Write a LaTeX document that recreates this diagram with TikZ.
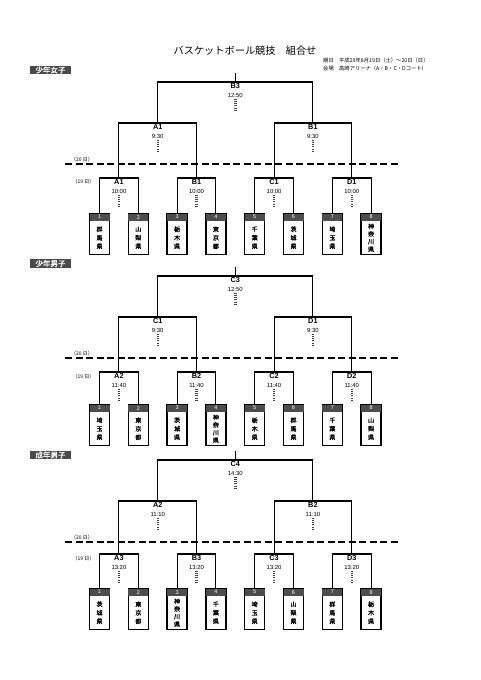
\documentclass[tikz,border=0pt]{standalone}
\usepackage{fontspec}
\newfontfamily\jp{Noto Sans CJK JP}
\newfontfamily\jpb{Noto Sans CJK JP}[FakeBold=1.5]
\newfontfamily\lib{Liberation Sans}
\definecolor{hdr}{HTML}{4D4D4D}
\definecolor{lab}{HTML}{4A4A4A}
\tikzset{
 tree/.style={line width=1.1pt, black},
 teambox/.style={draw, line width=1.5pt, minimum width=20pt, minimum height=40.5pt, inner sep=0pt, anchor=north, fill=white},
 numtxt/.style={text=white, font=\lib\fontsize{5.5}{6}\selectfont, inner sep=0pt},
 nametxt/.style={align=center, font=\jpb\fontsize{6}{8.5}\selectfont, inner sep=0pt},
 name4/.style={font=\jpb\fontsize{6}{7.6}\selectfont},
 mlabel/.style={font=\lib\bfseries\fontsize{7.3}{8}\selectfont, inner sep=0pt},
 mtime/.style={font=\lib\fontsize{5.9}{6.5}\selectfont, inner sep=0pt},
 mdots/.style={line width=2.4pt, black!75, dash pattern=on 0.7pt off 1.5pt},
 daysep/.style={line width=1.8pt, dash pattern=on 7pt off 3.5pt},
 daytxt/.style={font=\jp\fontsize{5}{6}\selectfont, inner sep=0pt},
 seclabel/.style={fill=lab, text=white, font=\jpb\fontsize{7.5}{8}\selectfont, minimum width=41pt, minimum height=8.5pt, inner sep=0pt},
 titletxt/.style={font=\jp\fontsize{10.2}{12}\selectfont, inner sep=0pt},
 infotxt/.style={font=\jp\fontsize{5.3}{6}\selectfont, inner sep=0pt, anchor=west},
}
\newcommand\team[6]{%
 \node[teambox] (#1) at (#2,#3) {};
 \fill[hdr] ([shift={(0.75pt,-0.75pt)}]#1.north west) rectangle ([shift={(-0.75pt,-7.5pt)}]#1.north east);
 \node[numtxt] (#1num) at ([yshift=-4.1pt]#1.north) {#4};
 \node[nametxt,#6] (#1name) at ([yshift=-3.75pt]#1.center) {#5};
}
\newcommand\match[5]{%
 \node[mlabel] (#1) at (#2,#3+4) {#4};
 \node[mtime] (#1time) at (#2,#3+13) {#5};
 \draw[mdots] ([yshift=-1.5pt]#1time.south) -- ++(0,13);
}
\newcommand\bracket[5]{%
 \coordinate (#1f) at (235.3,#2);
 \coordinate (#1top) at (235.3,#5);
 \coordinate (#1n1) at (157.7,#3);
 \coordinate (#1n2) at (312.9,#3);
 \coordinate (#1m1) at (118.9,#4);
 \coordinate (#1m2) at (196.5,#4);
 \coordinate (#1m3) at (274.1,#4);
 \coordinate (#1m4) at (351.7,#4);
 \draw[tree] (#1t1.north) |- (#1m1) -| (#1t2.north);
 \draw[tree] (#1t3.north) |- (#1m2) -| (#1t4.north);
 \draw[tree] (#1t5.north) |- (#1m3) -| (#1t6.north);
 \draw[tree] (#1t7.north) |- (#1m4) -| (#1t8.north);
 \draw[tree] (#1m1) |- (#1n1) -| (#1m2);
 \draw[tree] (#1m3) |- (#1n2) -| (#1m4);
 \draw[tree] (#1n1) |- (#1f) -| (#1n2);
 \draw[tree] (#1f) -- (#1top);
}
\newcommand\daysplit[4]{%
 \coordinate (#1dl) at (65,#2);
 \coordinate (#1dr) at (400,#2);
 \draw[daysep] (#1dl) -- (#1dr);
 \node[daytxt] (#1d20) at (82,#3) {（20 日）};
 \node[daytxt] (#1d19) at (83.5,#4) {（19 日）};
}
\begin{document}
\begin{tikzpicture}[x=1pt,y=-1pt]
\useasboundingbox[fill=white] (0,0) rectangle (481,680);
% header
\node[titletxt] (title) at (245,51) {バスケットボール競技　組合せ};
\node[infotxt] (date) at (323,60) {期日　平成29年8月19日（土）～20日（日）};
\node[infotxt] (venue) at (323,68) {会場　高崎アリーナ（A・B・C・Dコート）};

% ---------- section 1 : 少年女子 ----------
\node[seclabel] (s1lab) at (50.5,70) {少年女子};
\team{s1t1}{99.5}{213}{1}{群\\馬\\県}{}
\team{s1t2}{138.3}{213}{2}{山\\梨\\県}{}
\team{s1t3}{177.1}{213}{3}{栃\\木\\県}{}
\team{s1t4}{215.9}{213}{4}{東\\京\\都}{}
\team{s1t5}{254.7}{213}{5}{千\\葉\\県}{}
\team{s1t6}{293.5}{213}{6}{茨\\城\\県}{}
\team{s1t7}{332.3}{213}{7}{埼\\玉\\県}{}
\team{s1t8}{371.1}{213}{8}{神\\奈\\川\\県}{name4}
\bracket{s1}{82}{123}{178}{73}
\daysplit{s1}{164}{160}{182}
\match{s1mf}{235.3}{82}{B3}{12:50}
\match{s1mn1}{157.7}{123}{A1}{9:30}
\match{s1mn2}{312.9}{123}{B1}{9:30}
\match{s1mm1}{118.9}{178}{A1}{10:00}
\match{s1mm2}{196.5}{178}{B1}{10:00}
\match{s1mm3}{274.1}{178}{C1}{10:00}
\match{s1mm4}{351.7}{178}{D1}{10:00}

% ---------- section 2 : 少年男子 ----------
\node[seclabel] (s2lab) at (50.5,263.5) {少年男子};
\team{s2t1}{99.5}{404}{1}{埼\\玉\\県}{}
\team{s2t2}{138.3}{404}{2}{東\\京\\都}{}
\team{s2t3}{177.1}{404}{3}{茨\\城\\県}{}
\team{s2t4}{215.9}{404}{4}{神\\奈\\川\\県}{name4}
\team{s2t5}{254.7}{404}{5}{栃\\木\\県}{}
\team{s2t6}{293.5}{404}{6}{群\\馬\\県}{}
\team{s2t7}{332.3}{404}{7}{千\\葉\\県}{}
\team{s2t8}{371.1}{404}{8}{山\\梨\\県}{}
\bracket{s2}{276}{317}{372}{267}
\daysplit{s2}{358}{354}{377}
\match{s2mf}{235.3}{276}{C3}{12:50}
\match{s2mn1}{157.7}{317}{C1}{9:30}
\match{s2mn2}{312.9}{317}{D1}{9:30}
\match{s2mm1}{118.9}{372}{A2}{11:40}
\match{s2mm2}{196.5}{372}{B2}{11:40}
\match{s2mm3}{274.1}{372}{C2}{11:40}
\match{s2mm4}{351.7}{372}{D2}{11:40}

% ---------- section 3 : 成年男子 ----------
\node[seclabel] (s3lab) at (50.5,455) {成年男子};
\team{s3t1}{99.5}{588}{1}{茨\\城\\県}{}
\team{s3t2}{138.3}{588}{2}{東\\京\\都}{}
\team{s3t3}{177.1}{588}{3}{神\\奈\\川\\県}{name4}
\team{s3t4}{215.9}{588}{4}{千\\葉\\県}{}
\team{s3t5}{254.7}{588}{5}{埼\\玉\\県}{}
\team{s3t6}{293.5}{588}{6}{山\\梨\\県}{}
\team{s3t7}{332.3}{588}{7}{群\\馬\\県}{}
\team{s3t8}{371.1}{588}{8}{栃\\木\\県}{}
\bracket{s3}{460}{501}{554}{451}
\daysplit{s3}{542}{538}{559}
\match{s3mf}{235.3}{460}{C4}{14:30}
\match{s3mn1}{157.7}{501}{A2}{11:10}
\match{s3mn2}{312.9}{501}{B2}{11:10}
\match{s3mm1}{118.9}{554}{A3}{13:20}
\match{s3mm2}{196.5}{554}{B3}{13:20}
\match{s3mm3}{274.1}{554}{C3}{13:20}
\match{s3mm4}{351.7}{554}{D3}{13:20}
\end{tikzpicture}
\end{document}
